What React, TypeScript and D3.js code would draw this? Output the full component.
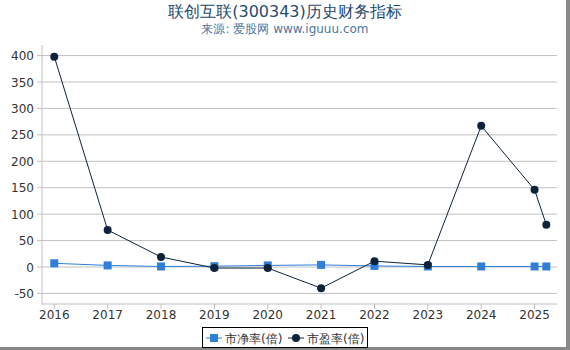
import React from "react";
import * as d3 from "d3";

const years = [2016, 2017, 2018, 2019, 2020, 2021, 2022, 2023, 2024, 2025, 2025.22];
const pbValues = [7, 3, 1, 1.5, 3, 4, 2, 1, 1, 1, 1];
const peValues = [398, 70, 19, -2, -2, -40, 11, 4, 267, 146, 80];
const xTicks = [2016, 2017, 2018, 2019, 2020, 2021, 2022, 2023, 2024, 2025];
const yTicks = [-50, 0, 50, 100, 150, 200, 250, 300, 350, 400];
const seriesNames = ["市净率(倍)", "市盈率(倍)"];

const W = 570, H = 350;
const left = 42, right = 557, top = 45, bottom = 304;
const font = "DejaVu Sans, sans-serif";

export default function App() {
  const x = d3.scaleLinear().domain([2015.77, 2025.42]).range([left, right]);
  const y = d3.scaleLinear().domain([-70, 420]).range([bottom, top]);
  const line = d3.line<[number, number]>().x(d => x(d[0])).y(d => y(d[1]));
  const pb = years.map((t, i) => [t, pbValues[i]] as [number, number]);
  const pe = years.map((t, i) => [t, peValues[i]] as [number, number]);
  return (
    <svg width={W} height={H} style={{ position: "absolute", left: 0, top: 0 }} fontFamily={font}>
      <rect x={0} y={0} width={W} height={H} fill="#fff" />
      <rect x={566} y={0} width={4} height={H} fill="#888" />
      <rect x={0} y={347} width={W} height={3} fill="#888" />
      <text x={285} y={17} textAnchor="middle" fontSize={16} fill="#274b6d">联创互联(300343)历史财务指标</text>
      <text x={285} y={33} textAnchor="middle" fontSize={12} fill="#4d759e">来源: 爱股网 www.iguuu.com</text>
      {yTicks.map(v => (
        <g key={v}>
          <line x1={left - 5} x2={right} y1={y(v)} y2={y(v)} stroke="#c0c0c0" strokeWidth={1} />
          <text x={left - 8} y={y(v) + 4.5} textAnchor="end" fontSize={12} fill="#333">{v}</text>
        </g>
      ))}
      <line x1={left} x2={left} y1={top} y2={bottom} stroke="#c0c0c0" />
      <line x1={left} x2={right} y1={bottom} y2={bottom} stroke="#c0c0c0" />
      {xTicks.map(v => (
        <g key={v}>
          <line x1={x(v)} x2={x(v)} y1={bottom} y2={bottom + 5} stroke="#c0c0c0" />
          <text x={x(v)} y={bottom + 15} textAnchor="middle" fontSize={12} fill="#333">{v}</text>
        </g>
      ))}
      <path d={line(pb) || ""} fill="none" stroke="#2f7ed8" strokeWidth={1} />
      {pb.map((d, i) => (
        <rect key={i} x={x(d[0]) - 4} y={y(d[1]) - 4} width={8} height={8} fill="#2f7ed8" />
      ))}
      <path d={line(pe) || ""} fill="none" stroke="#0d233a" strokeWidth={1} />
      {pe.map((d, i) => (
        <circle key={i} cx={x(d[0])} cy={y(d[1])} r={4} fill="#0d233a" />
      ))}
      <rect x={202.5} y={327.5} width={165} height={20} fill="#fff" stroke="#000" strokeWidth={1} />
      <line x1={206} x2={222} y1={338} y2={338} stroke="#2f7ed8" strokeWidth={1} />
      <rect x={210} y={334} width={8} height={8} fill="#2f7ed8" />
      <text x={225} y={342.5} fontSize={12} fill="#333">{seriesNames[0]}</text>
      <line x1={288} x2={304} y1={338} y2={338} stroke="#0d233a" strokeWidth={1} />
      <circle cx={296} cy={338} r={4} fill="#0d233a" />
      <text x={307} y={342.5} fontSize={12} fill="#333">{seriesNames[1]}</text>
    </svg>
  );
}
